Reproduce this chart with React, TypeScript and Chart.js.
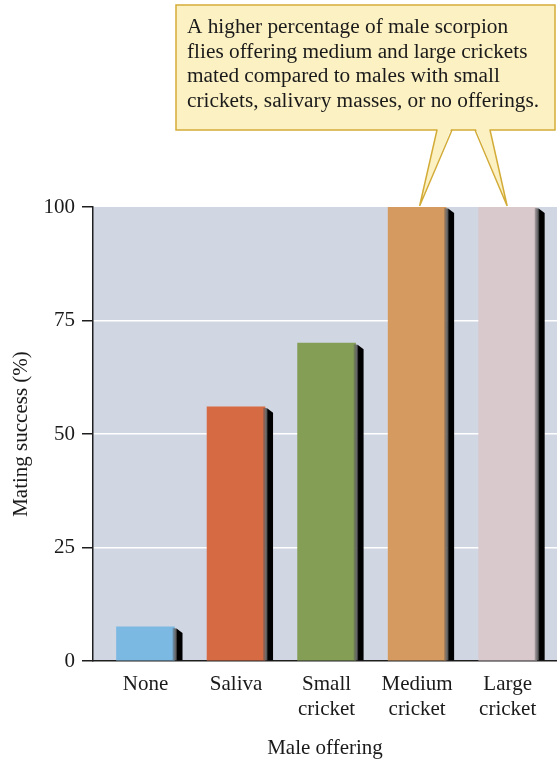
import React, { useEffect, useRef } from "react";
import { Chart, registerables } from "chart.js";

Chart.register(...registerables);

// Mating success of male scorpion flies by nuptial offering
const OFFERINGS: string[][] = [["None"], ["Saliva"], ["Small", "cricket"], ["Medium", "cricket"], ["Large", "cricket"]];
const SUCCESS: number[] = [7.5, 56, 70, 100, 100];
const BAR_COLORS: string[] = ["#7bb8e2", "#d56a43", "#849e56", "#d59a60", "#d9c9cd"];
const Y_TICKS: number[] = [0, 25, 50, 75, 100];
const CALLOUT_LINES: string[] = [
  "A higher percentage of male scorpion",
  "flies offering medium and large crickets",
  "mated compared to males with small",
  "crickets, salivary masses, or no offerings.",
];
const CALLOUT_TARGETS: number[] = [3, 4];

const FONT = "'Liberation Serif', 'Times New Roman', serif";
const PLOT_BG = "#d0d7e3";
const AXIS = "#1e1e1e";
const CALLOUT_FILL = "#fcf1c3";
const CALLOUT_EDGE = "#d3ac38";

const plotBackground = {
  id: "plotBackground",
  beforeDraw(chart: any) {
    const { ctx, chartArea } = chart;
    ctx.save();
    ctx.fillStyle = PLOT_BG;
    ctx.fillRect(chartArea.left, chartArea.top, chartArea.right - chartArea.left, chartArea.bottom - chartArea.top);
    ctx.restore();
  },
};

// Dark side face on the right of each bar for a raised look
const barSides = {
  id: "barSides",
  afterDatasetsDraw(chart: any) {
    const { ctx } = chart;
    const meta = chart.getDatasetMeta(0);
    ctx.save();
    meta.data.forEach((bar: any) => {
      const { x, y, width, base } = bar.getProps(["x", "y", "width", "base"], true);
      const r = x + width / 2;
      const g = ctx.createLinearGradient(r - 2, 0, r + 8, 0);
      g.addColorStop(0, "rgba(90,90,90,0.35)");
      g.addColorStop(0.35, "#5a5a5a");
      g.addColorStop(0.5, "#000");
      g.addColorStop(1, "#000");
      ctx.fillStyle = g;
      ctx.beginPath();
      ctx.moveTo(r - 2, y + 1);
      ctx.lineTo(r + 2, y + 1.5);
      ctx.lineTo(r + 8, y + 6);
      ctx.lineTo(r + 8, base);
      ctx.lineTo(r - 2, base);
      ctx.closePath();
      ctx.fill();
    });
    ctx.restore();
  },
};

// Speech-bubble note pointing at the medium and large cricket bars
const callout = {
  id: "callout",
  afterDraw(chart: any) {
    const { ctx } = chart;
    const meta = chart.getDatasetMeta(0);
    const bx = 176, by = 5, bw = 379, bh = 125;
    const bottom = by + bh;
    ctx.save();
    ctx.lineWidth = 1.5;
    ctx.strokeStyle = CALLOUT_EDGE;
    ctx.fillStyle = CALLOUT_FILL;
    ctx.fillRect(bx, by, bw, bh);
    ctx.strokeRect(bx, by, bw, bh);

    const bases = [[437, 452], [475, 490]];
    CALLOUT_TARGETS.forEach((idx, k) => {
      const bar = meta.data[idx];
      const { x, y } = bar.getProps(["x", "y"], true);
      const tipX = x + (k === 0 ? 2.5 : -0.5);
      const tipY = y - 1;
      const [a, b] = bases[k];
      ctx.fillStyle = CALLOUT_FILL;
      ctx.beginPath();
      ctx.moveTo(a + 0.8, bottom - 1.5);
      ctx.lineTo(b - 0.8, bottom - 1.5);
      ctx.lineTo(tipX, tipY);
      ctx.closePath();
      ctx.fill();
      ctx.beginPath();
      ctx.moveTo(a, bottom);
      ctx.lineTo(tipX, tipY);
      ctx.lineTo(b, bottom);
      ctx.stroke();
    });

    ctx.fillStyle = "#1a1a1a";
    ctx.font = `21.3px ${FONT}`;
    ctx.textBaseline = "alphabetic";
    ctx.textAlign = "left";
    CALLOUT_LINES.forEach((line, i) => {
      ctx.fillText(line, 187, 33 + i * 24.5);
    });
    ctx.restore();
  },
};

function App() {
  const canvasRef = useRef<HTMLCanvasElement | null>(null);

  useEffect(() => {
    const canvas = canvasRef.current;
    if (!canvas) return;
    const chart = new Chart(canvas, {
      type: "bar",
      data: {
        datasets: [
          {
            data: SUCCESS.map((v, i) => ({ x: i, y: v })),
            backgroundColor: BAR_COLORS,
            borderWidth: 0,
            barThickness: 58,
          },
        ],
      },
      options: {
        responsive: false,
        animation: false,
        devicePixelRatio: 1,
        layout: { padding: { top: 207, right: 0, bottom: 0, left: 0 } },
        plugins: {
          legend: { display: false },
          tooltip: { enabled: false },
        },
        scales: {
          x: {
            type: "linear",
            offset: false,
            min: -0.58,
            max: 4.545,
            grid: { display: false, offset: false },
            border: { display: true, color: AXIS, width: 1.5 },
            afterBuildTicks: (scale: any) => {
              scale.ticks = OFFERINGS.map((_, i) => ({ value: i }));
            },
            afterFit: (scale: any) => {
              scale.height = 98;
            },
            ticks: {
              autoSkip: false,
              maxRotation: 0,
              padding: 3,
              color: "#1a1a1a",
              font: { family: FONT, size: 21, lineHeight: 1.19 },
              callback: (v: any) => OFFERINGS[Number(v)] ?? "",
            },
            title: {
              display: true,
              text: "Male offering",
              color: "#1a1a1a",
              font: { family: FONT, size: 21, lineHeight: 1.2 },
              padding: { top: 0, bottom: -2 },
            },
          },
          y: {
            min: 0,
            max: 100,
            afterBuildTicks: (scale: any) => {
              scale.ticks = Y_TICKS.map((v) => ({ value: v }));
            },
            afterFit: (scale: any) => {
              scale.width = 93;
            },
            grid: {
              color: (c: any) => (c.tick && c.tick.value > 0 && c.tick.value < 100 ? "#ffffff" : "rgba(0,0,0,0)"),
              lineWidth: 1.5,
              tickColor: AXIS,
              tickWidth: 1.5,
              tickLength: 11,
            },
            border: { display: true, color: AXIS, width: 1.5 },
            ticks: {
              padding: 7,
              color: "#1a1a1a",
              font: { family: FONT, size: 21 },
              callback: (v: any) => String(v),
            },
            title: {
              display: true,
              text: "Mating success (%)",
              color: "#1a1a1a",
              font: { family: FONT, size: 21, lineHeight: 1.2 },
              padding: { top: 9, bottom: 0 },
            },
          },
        },
      },
      plugins: [plotBackground, barSides, callout],
    });
    return () => chart.destroy();
  }, []);

  return (
    <div style={{ position: "absolute", left: 0, top: 0, width: 557, height: 759, overflow: "hidden", background: "#fff" }}>
      <canvas ref={canvasRef} width={557} height={759} style={{ display: "block" }} />
    </div>
  );
}

export default App;
